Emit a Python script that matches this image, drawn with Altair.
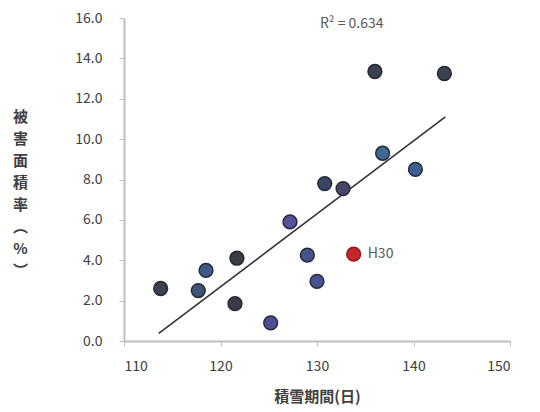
import altair as alt
import pandas as pd

# data
snow_days = [113.8, 117.7, 118.5, 121.7, 121.5, 125.2, 127.2, 129.0, 130.0, 130.8, 132.7, 136.0, 136.8, 140.2, 143.2]
damage_rate = [2.6, 2.5, 3.5, 4.1, 1.85, 0.9, 5.9, 4.25, 2.95, 7.8, 7.55, 13.35, 9.3, 8.5, 13.25]
point_colors = ["#3b4150", "#3d5578", "#3c5a8c", "#3a3d44", "#3a3d44", "#4a4f93", "#55529a",
                "#46528a", "#4a5296", "#3c4560", "#44466a", "#3d4050", "#3e6a98", "#3e5f96", "#3d4250"]

h30_x = [133.8]
h30_y = [4.3]
h30_label = ["H30"]

trend_x = [113.6, 143.3]
trend_y = [0.38, 11.1]

r2_text = ["R² = 0.634"]
r2_x = [133.6]
r2_y = [15.7]

FONT = "Noto Sans CJK JP"

pts = pd.DataFrame({"x": snow_days, "y": damage_rate, "c": point_colors})
h30 = pd.DataFrame({"x": h30_x, "y": h30_y, "t": h30_label})
trend = pd.DataFrame({"x": trend_x, "y": trend_y})
r2 = pd.DataFrame({"x": r2_x, "y": r2_y, "t": r2_text})

xs = alt.Scale(domain=[110, 150], nice=False, zero=False)
ys = alt.Scale(domain=[0, 16], nice=False)

xaxis = alt.Axis(values=[110, 120, 130, 140, 150], title="積雪期間(日)", grid=False,
                 domainColor="#bfbfbf", domainWidth=2, tickColor="#bfbfbf", tickSize=5,
                 labelPadding=13, labelFontSize=14, labelColor="#404040", labelFont=FONT,
                 titleFont=FONT, titleFontSize=15, titleColor="#404040", titleFontWeight="bold",
                 titleY=55, titleBaseline="middle")
yaxis = alt.Axis(values=[0, 2, 4, 6, 8, 10, 12, 14, 16], format=".1f",
                 title=["被", "害", "面", "積", "率", "︵", "%", "︶"], grid=False,
                 domainColor="#bfbfbf", domainWidth=2, tickColor="#bfbfbf", tickSize=5,
                 labelPadding=17, labelFontSize=14, labelColor="#404040", labelFont=FONT,
                 titleFont=FONT, titleFontSize=15, titleColor="#404040", titleFontWeight="bold",
                 titleAngle=0, titleX=-104, titleY=91, titleAlign="center", titleBaseline="top",
                 titleLineHeight=22)

line = alt.Chart(trend).mark_line(color="#333333", strokeWidth=1.6).encode(
    x=alt.X("x:Q", scale=xs, axis=xaxis),
    y=alt.Y("y:Q", scale=ys, axis=yaxis),
)

points = alt.Chart(pts).mark_point(filled=True, size=190, opacity=1, shape="circle",
                                   stroke="#262a36", strokeWidth=1.5).encode(
    x=alt.X("x:Q", scale=xs),
    y=alt.Y("y:Q", scale=ys),
    fill=alt.Fill("c:N", scale=None),
)

red = alt.Chart(h30).mark_point(filled=True, size=190, opacity=1, shape="circle",
                                color="#c4262e", stroke="#8a1c22", strokeWidth=1.5).encode(
    x=alt.X("x:Q", scale=xs), y=alt.Y("y:Q", scale=ys))

red_label = alt.Chart(h30).mark_text(align="left", dx=14, fontSize=14, font=FONT,
                                     color="#595959").encode(
    x=alt.X("x:Q", scale=xs), y=alt.Y("y:Q", scale=ys), text="t:N")

r2_mark = alt.Chart(r2).mark_text(align="center", fontSize=14, font=FONT, color="#595959").encode(
    x=alt.X("x:Q", scale=xs), y=alt.Y("y:Q", scale=ys), text="t:N")

chart = alt.layer(line, points, red, red_label, r2_mark).properties(
    width=386, height=323,
    autosize=alt.AutoSizeParams(type="none"),
    padding={"left": 116, "top": 10, "right": 22, "bottom": 70},
).configure_view(stroke=None)

chart.save("out.html", embed_options={"renderer": "svg", "actions": False})
